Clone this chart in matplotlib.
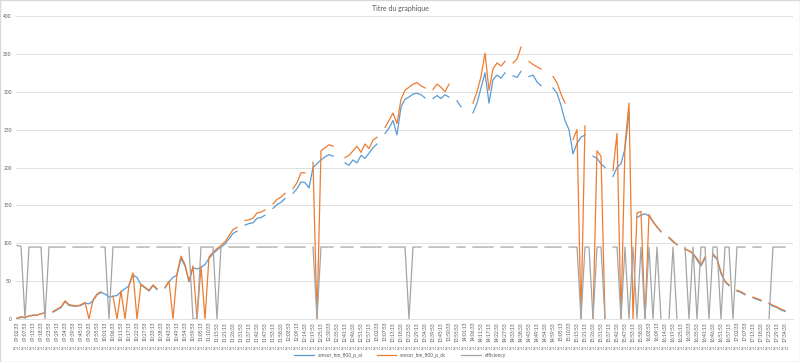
import numpy as np
import pandas as pd
import matplotlib
matplotlib.use("Agg")
import matplotlib.pyplot as plt
import matplotlib.transforms as mtransforms

nan = np.nan

# sensor_hm_800_p_dc (orange)
dc = [1, 3, 2, 4, 5, 5, 7, 8, nan, 10,
      13, 16, 24, 19, 18, 17, 19, 22, 0, 25,
      33, 36, nan, nan, 30, 0, 37, 0, 45, 61,
      0, 46, 42, 38, 45, 40, nan, 42, 50, 0,
      60, 83, 72, 50, 70, 0, 70, 0, 82, 88,
      93, 97, 102, 110, 118, 121, nan, 130, 131, 133,
      140, 141, 144, nan, 152, 158, 161, 166, nan, 172,
      180, 193, 193, nan, 207, 0, 222, 226, 230, 228,
      nan, nan, 213, 216, 222, 228, 220, 231, 225, 236,
      240, nan, 253, 262, 272, 258, 290, 302, 306, 310,
      312, 308, 305, nan, 303, 310, 306, 300, 310, nan,
      303, nan, nan, nan, 285, 300, 320, 351, 302, 330,
      338, 334, 340, nan, 338, 343, 359, nan, 340, 336,
      333, 330, nan, nan, 320, 312, 297, 285, nan, 237,
      250, 0, 255, nan, 0, 222, 215, 0, nan, 196,
      245, 0, 230, 285, 0, 140, 142, 0, 138, 128,
      122, 115, nan, 108, 103, 98, nan, 93, 90, 86,
      80, 72, 82, nan, 86, 80, 62, 50, 45, nan,
      38, 36, 33, nan, 29, 27, 25, nan, 21, 18,
      16, 13, 11]

# sensor_hm_800_p_ai (blue)
ai = [1, 2, 2, 4, 5, 5, 7, 8, nan, 9,
      12, 15, 23, 18, 17, 17, 18, 21, 20, 24,
      32, 35, 33, 29, 30, 31, 36, 40, 44, 58,
      55, 45, 41, 37, 44, 39, nan, 41, 49, 55,
      58, 80, 70, 49, 68, 66, 68, 72, 80, 86,
      91, 95, 99, 106, 113, 116, nan, 124, 126, 127,
      133, 134, 137, nan, 146, 151, 154, 159, nan, 166,
      172, 181, 180, 173, 200, 205, 210, 214, 217, 215,
      nan, nan, 206, 203, 210, 206, 216, 212, 219, 226,
      231, nan, 245, 252, 262, 243, 280, 290, 293, 297,
      298, 296, 292, nan, 291, 295, 291, 296, 293, nan,
      288, 280, nan, nan, 272, 285, 305, 325, 285, 316,
      322, 318, 325, nan, 321, 319, 327, nan, 320, 322,
      313, 308, nan, nan, 305, 298, 282, 262, 250, 218,
      232, 240, 243, nan, 215, 212, 205, 200, nan, 188,
      200, 205, 225, 272, nan, 134, 137, 139, 136, 129,
      121, 116, nan, 107, 102, 98, nan, 92, 90, 87,
      78, 70, 80, nan, 84, 79, 60, 49, 44, nan,
      37, 35, 32, nan, 28, 26, 24, nan, 20, 17,
      15, 12, 10]

# efficiency (gray)
eff = [97, 96, 0, 95, 95, 95, 95, 0, 95, 95,
       95, 95, 95, nan, 95, 95, 95, 95, 95, 95,
       nan, 95, 95, 0, 95, 95, 95, 95, 95, nan,
       95, 95, 95, 95, nan, 95, 95, 95, 95, 95,
       95, 95, nan, 95, 0, 0, 95, 95, 95, 95,
       0, 95, nan, 95, 95, 95, 95, 95, 95, nan,
       95, 95, 95, 95, 95, 95, nan, 95, 95, 95,
       95, 95, 95, nan, 95, 0, 95, 95, 95, 95,
       nan, 95, 95, 95, 95, nan, 95, 95, 95, 95,
       95, 95, nan, 95, 95, 95, 95, 95, 0, 95,
       95, 95, nan, 95, 95, 95, 95, 95, 95, nan,
       95, 95, 95, nan, 95, 95, 95, 95, 95, 95,
       nan, 95, 95, 95, 95, nan, 95, 95, 95, 95,
       95, nan, 95, 95, 95, 95, 95, nan, 95, 95,
       95, 0, 95, 95, 0, 95, 95, 0, nan, 95,
       95, 0, 95, 0, 95, 0, 95, 0, 95, 0,
       95, 0, nan, 0, 95, 0, nan, 95, 0, 95,
       0, 95, 95, 0, 95, 95, 0, 95, 95, 0,
       95, 95, 95, nan, 95, 95, 95, nan, 0, 95,
       95, 95, 95]

times = pd.date_range("2020-11-27 09:02:33", periods=len(dc), freq="160s")
time_labels = list(times.strftime("%H:%M:%S"))
date_label = "27/11"

plt.rcParams['font.family'] = ['Lato', 'DejaVu Sans']

fig = plt.figure(figsize=(8, 3.62), dpi=100)
ax = fig.add_axes([16 / 800, 43 / 362, 777 / 800, 303 / 362])

x = np.arange(len(dc))
ax.plot(x, ai, color='#5B9BD5', lw=0.9, label='sensor_hm_800_p_ai')
ax.plot(x, dc, color='#ED7D31', lw=0.9, label='sensor_hm_800_p_dc')
ax.plot(x, eff, color='#A5A5A5', lw=0.9, label='efficiency')

ax.set_xlim(-0.25, 194)
ax.set_ylim(0, 400)
ax.set_yticks(range(0, 401, 50))
ax.grid(axis='y', color='#D9D9D9', lw=0.6)
ax.set_axisbelow(True)
for s in ['top', 'right', 'left']:
    ax.spines[s].set_visible(False)
ax.spines['bottom'].set_color('#D9D9D9')
ax.spines['bottom'].set_linewidth(0.6)
ax.tick_params(axis='y', length=0, labelsize=3.5, labelcolor='#595959', pad=3)

tick_pos = list(range(0, len(dc), 2))
ax.set_xticks(tick_pos)
ax.set_xticklabels([time_labels[i] for i in tick_pos], rotation=90,
                   fontsize=3.5, color='#595959')
ax.tick_params(axis='x', length=0, pad=2)

# date row under the time labels
trans = mtransforms.blended_transform_factory(ax.transData, fig.transFigure)
for i in tick_pos:
    ax.text(i, 1 - 349 / 362, date_label, transform=trans, fontsize=2.2,
            color='#595959', ha='center', va='center', clip_on=False)

fig.text(0.5, 1 - 8 / 362, "Titre du graphique", ha='center', va='center',
         fontsize=5, color='#595959')

fig.legend(loc='center', bbox_to_anchor=(0.5, 1 - 355 / 362), ncol=3,
           fontsize=3.5, frameon=False, handlelength=4, columnspacing=3,
           labelcolor='#595959')

fig.patches.append(plt.Rectangle((0, 0), 1, 1, transform=fig.transFigure,
                                 fill=False, edgecolor='#D9D9D9', lw=1))

fig.savefig('out.png', dpi=100)
